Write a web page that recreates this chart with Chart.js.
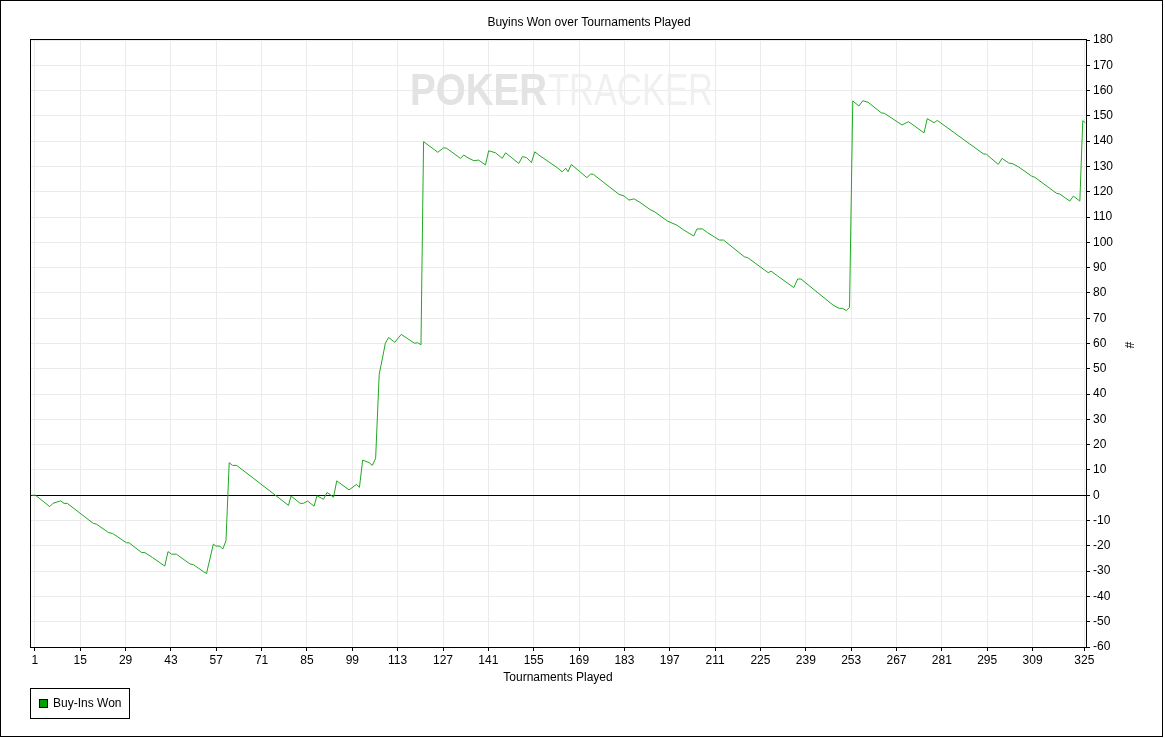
<!DOCTYPE html>
<html><head><meta charset="utf-8">
<script src="https://cdn.jsdelivr.net/npm/chart.js@4"></script>
<style>html,body{margin:0;padding:0;background:#fff;}canvas{display:block;}</style>
</head><body>
<canvas id="c" width="1165" height="738"></canvas>
<script>
const chartTitle = 'Buyins Won over Tournaments Played';
const xAxisTitle = 'Tournaments Played';
const yAxisTitle = '#';
const seriesLabel = 'Buy-Ins Won';
const xTickLabels = [1,15,29,43,57,71,85,99,113,127,141,155,169,183,197,211,225,239,253,267,281,295,309,325];
const yMin = -60, yMax = 180, yStep = 10;

const tournaments = [0,1.2,5.6,6.6,9.0,10.0,11.0,19.0,20.0,23.8,25.0,29.3,30.1,33.9,35.0,37.3,41.1,42.1,43.2,44.7,48.9,49.9,53.0,54.0,56.1,56.9,58.1,59.0,60.0,61.0,62.0,63.3,70.5,79.3,80.1,82.9,83.9,85.2,87.2,88.1,90.1,91.2,92.4,93.2,94.2,98.0,100.3,101.2,102.2,104.2,105.2,106.2,107.3,108.2,109.2,110.2,112.1,114.1,118.2,119.2,120.2,121.0,125.4,127.2,128.1,132.4,133.4,135.0,136.5,138.0,140.1,141.1,143.2,145.3,146.3,150.4,151.5,152.8,154.3,155.3,156.6,162.3,163.8,164.9,165.6,166.6,171.4,172.6,173.4,181.3,182.9,184.4,186.0,187.8,190.9,192.4,196.3,199.2,201.3,204.4,205.4,207.1,208.7,210.7,212.3,213.6,220.0,221.1,227.4,228.3,230.3,235.3,236.5,237.5,247.4,249.3,250.4,251.5,252.5,253.5,255.4,256.6,258.2,262.3,263.3,268.7,270.7,275.5,276.5,278.6,279.6,293.8,294.8,298.4,299.6,301.6,303.0,304.6,308.7,309.7,316.4,317.4,320.5,321.6,323.6,324.5,325.3];
const buyinsWon = [0,0,-4.5,-3.2,-2.2,-3.2,-3.2,-11.1,-11.4,-14.8,-15.1,-18.8,-18.8,-22.6,-22.7,-24.6,-28.0,-22.3,-23.3,-23.3,-27.2,-27.4,-30.2,-30.9,-19.3,-20.1,-20.1,-21.3,-18.0,12.9,11.8,11.8,4.7,-4.0,-0.3,-3.2,-3.2,-2.3,-4.3,-0.2,-1.6,1.1,0,-0.8,5.7,2.1,4.3,3.1,13.9,12.9,11.8,14.6,47.8,53.5,60.1,62.4,60.5,63.6,60.1,60.3,59.5,139.8,135.6,137.4,137.2,133.2,134.5,133.2,132.3,132.5,130.6,136.2,135.4,133.2,135.4,131.2,133.9,133.5,131.5,135.8,134.5,129.5,127.9,129.3,127.9,130.8,125.6,127.0,126.9,119.0,118.3,116.7,117.2,115.8,113.0,112.0,108.4,106.8,104.9,102.5,105.3,105.3,103.8,102.2,100.9,100.9,94.3,93.9,88.0,88.6,86.7,82.1,85.5,85.5,75.2,73.9,73.9,73.0,74.3,155.9,153.9,156.0,155.4,151.2,151.0,146.4,147.7,143.3,148.9,147.3,148.2,135.0,134.8,130.8,133.2,131.4,131.0,129.9,126.2,125.7,119.4,119.1,116.3,118.3,116.3,148.1,147.3];

const FONT = '"Liberation Sans", Arial, sans-serif';
Chart.defaults.font.family = FONT;
Chart.defaults.font.size = 12;
Chart.defaults.color = '#000';

const lineColor = '#1fa81f';
const legendColor = '#00a000';

const decor = {
  id: 'decor',
  beforeDatasetsDraw(chart) {
    const ctx = chart.ctx;
    ctx.save();
    ctx.textBaseline = 'alphabetic';
    ctx.textAlign = 'left';
    // watermark
    ctx.font = 'bold 44px ' + FONT;
    let w = ctx.measureText('POKER').width;
    ctx.save();
    ctx.translate(410, 105);
    ctx.scale(137 / w, 1);
    ctx.fillStyle = '#e3e3e3';
    ctx.fillText('POKER', 0, 0);
    ctx.restore();
    ctx.font = '44px ' + FONT;
    w = ctx.measureText('TRACKER').width;
    ctx.save();
    ctx.translate(548, 105);
    ctx.scale(165 / w, 1);
    ctx.fillStyle = '#f0f0f0';
    ctx.fillText('TRACKER', 0, 0);
    ctx.restore();
    ctx.restore();
  },
  afterDraw(chart) {
    const ctx = chart.ctx;
    const a = chart.chartArea;
    ctx.save();
    ctx.strokeStyle = '#000';
    ctx.lineWidth = 1;
    ctx.strokeRect(Math.round(a.left) + 0.5, Math.round(a.top) - 0.5, Math.round(a.right - a.left), Math.round(a.bottom - a.top) + 1);
    // outer frame
    ctx.strokeRect(0.5, 0.5, 1162, 736);
    // title
    ctx.fillStyle = '#000';
    ctx.font = '12px ' + FONT;
    ctx.textAlign = 'center';
    ctx.textBaseline = 'middle';
    ctx.fillText(chartTitle, 589, 23);
    ctx.fillText(xAxisTitle, (a.left + a.right) / 2, 678);
    // y axis title
    ctx.save();
    ctx.translate(1128, 345);
    ctx.rotate(Math.PI / 2);
    ctx.fillText(yAxisTitle, 0, 0);
    ctx.restore();
    // legend
    ctx.strokeRect(30.5, 688.5, 99, 30);
    ctx.fillStyle = legendColor;
    ctx.fillRect(39, 699, 8, 8);
    ctx.strokeRect(39.5, 699.5, 8, 8);
    ctx.fillStyle = '#000';
    ctx.textAlign = 'left';
    ctx.fillText(seriesLabel, 53, 704);
    ctx.restore();
  }
};

new Chart(document.getElementById('c'), {
  type: 'line',
  data: {
    datasets: [{
      label: seriesLabel,
      data: tournaments.map((t, i) => ({ x: t, y: buyinsWon[i] })),
      borderColor: lineColor,
      backgroundColor: legendColor,
      borderWidth: 1,
      pointRadius: 0,
      tension: 0,
      fill: false
    }]
  },
  options: {
    responsive: false,
    animation: false,
    layout: { padding: { left: 30, top: 40, right: 0, bottom: 0 } },
    plugins: { legend: { display: false }, title: { display: false }, tooltip: { enabled: false } },
    scales: {
      x: {
        type: 'linear',
        min: -0.5,
        max: 325.5,
        afterBuildTicks: (s) => { s.ticks = xTickLabels.map(v => ({ value: v })); },
        afterFit: (s) => { s.height = 91; },
        ticks: { autoSkip: false, maxRotation: 0, padding: 2, callback: (v) => String(v) },
        grid: { color: '#ebebeb', tickColor: '#000', tickLength: 4, drawTicks: true },
        border: { display: true, color: '#000' }
      },
      y: {
        position: 'right',
        min: yMin,
        max: yMax,
        afterFit: (s) => { s.width = 79; },
        ticks: { stepSize: yStep, padding: 3, autoSkip: false },
        grid: {
          color: (c) => (c.tick && c.tick.value === 0 ? '#000' : '#ebebeb'),
          tickColor: '#000',
          tickLength: 4
        },
        border: { display: true, color: '#000' }
      }
    }
  },
  plugins: [decor]
});
</script>
</body></html>
